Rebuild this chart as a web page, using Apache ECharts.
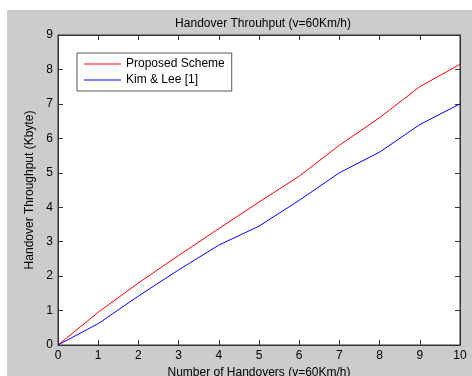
<!DOCTYPE html>
<html><head><meta charset="utf-8">
<script src="https://cdn.jsdelivr.net/npm/echarts@6/dist/echarts.min.js"></script>
<style>html,body{margin:0;padding:0;background:#fff}#c{width:472px;height:376px}</style>
</head><body><div id="c"></div>
<script>
const categories = [0,1,2,3,4,5,6,7,8,9,10];
const proposed = [0, 0.95, 1.8, 2.6, 3.38, 4.15, 4.9, 5.8, 6.6, 7.5, 8.15];
const kimLee = [0, 0.62, 1.42, 2.18, 2.9, 3.45, 4.2, 5.0, 5.6, 6.4, 7.0];
const seriesNames = ['Proposed Scheme', 'Kim & Lee [1]'];

const font = 'Liberation Sans, Arial, sans-serif';
const chart = echarts.init(document.getElementById('c'));
const axisLine = () => ({show:true, onZero:false, lineStyle:{color:'#333', width:1}});
const tick = () => ({show:true, inside:true, length:5, lineStyle:{color:'#333', width:1}});
chart.setOption({
  backgroundColor:'#fff',
  animation:false,
  graphic:[{type:'rect', shape:{x:7,y:10,width:465,height:366}, style:{fill:'#cccccc'}, z:-10, silent:true}],
  title:{text:'Handover Throuhput (v=60Km/h)', left:258, textAlign:'center', top:13,
    textStyle:{fontFamily:font, fontSize:12, fontWeight:'normal', color:'#000'}},
  grid:{left:58, right:12, top:35, bottom:31, outerBoundsMode:'none', containLabel:false, show:true, backgroundColor:'#fff', borderColor:'#333', borderWidth:1},
  legend:{show:true, orient:'vertical', left:77, top:53, backgroundColor:'#fff', borderColor:'#555', borderWidth:1,
    padding:[4,7,4,7], itemGap:2, itemWidth:37, itemHeight:1, icon:'rect',
    textStyle:{fontFamily:font, fontSize:12, color:'#000', lineHeight:14},
    data:seriesNames},
  xAxis:[{type:'value', min:0, max:10, interval:1, position:'bottom',
    name:'Number of Handovers (v=60Km/h)', nameLocation:'middle', nameGap:19,
    nameTextStyle:{fontFamily:font, fontSize:12, color:'#000'},
    axisLine:axisLine(), axisTick:tick(), splitLine:{show:false},
    axisLabel:{fontFamily:font, fontSize:12, color:'#000', margin:5}},
   {type:'value', min:0, max:10, interval:1, position:'top', axisLine:axisLine(), axisTick:tick(), axisLabel:{show:false}, splitLine:{show:false}}],
  yAxis:[{type:'value', min:0, max:9, interval:1, position:'left',
    name:'Handover Throughput (Kbyte)', nameLocation:'middle', nameGap:13,
    nameTextStyle:{fontFamily:font, fontSize:12, color:'#000'},
    axisLine:axisLine(), axisTick:tick(), splitLine:{show:false},
    axisLabel:{fontFamily:font, fontSize:12, color:'#000', margin:5}},
   {type:'value', min:0, max:9, interval:1, position:'right', axisLine:axisLine(), axisTick:tick(), axisLabel:{show:false}, splitLine:{show:false}}],
  series:[
    {name:seriesNames[0], type:'line', data:categories.map((c,i)=>[c,proposed[i]]), showSymbol:false, symbol:'none',
      lineStyle:{color:'#ff0000', width:1}, itemStyle:{color:'#ff0000'}},
    {name:seriesNames[1], type:'line', data:categories.map((c,i)=>[c,kimLee[i]]), showSymbol:false, symbol:'none',
      lineStyle:{color:'#0000ff', width:1}, itemStyle:{color:'#0000ff'}}
  ]
});
</script></body></html>
